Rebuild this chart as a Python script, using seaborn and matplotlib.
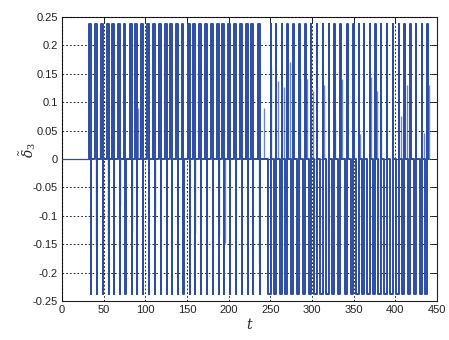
import numpy as np
import pandas as pd
import matplotlib
matplotlib.use("Agg")
import matplotlib.pyplot as plt
import seaborn as sns

# switching amplitude
amp = 0.238

# centres of the switching pulses
pulse_t = [33.1, 40.3, 47.5, 54.7, 61.6, 68.4, 75.1, 82.3, 89.2, 96.4,
           103.2, 109.9, 117.1, 124.6, 131.2, 138.0, 144.7, 151.9, 158.8, 165.6,
           172.8, 179.5, 186.7, 193.6, 200.8, 207.6, 214.3, 221.5, 228.4, 235.9,
           250.8, 257.2, 264.4, 271.2, 278.4, 285.1, 292.3, 299.2, 306.0, 313.2,
           320.4, 327.1, 334.6, 342.7, 349.9, 356.4, 362.8, 369.6, 376.3, 382.8,
           390.0, 397.2, 404.4, 411.1, 418.3, 425.2, 432.4, 438.7]

# partial-height spikes (time, value)
spike_t = [45.1, 74.8, 90.7, 242.8, 251.0, 258.9, 265.9, 274.0, 286.0, 294.0,
           301.0, 314.8, 328.0, 336.0, 342.0, 358.0, 370.8, 378.0, 382.8, 406.8,
           414.0, 434.0, 440.0,
           41.0, 55.6, 69.6, 83.6, 111.6, 160.0, 188.0, 196.0, 236.0, 305.0,
           319.0, 381.0]
spike_h = [0.12, 0.14, 0.09, 0.09, 0.16, 0.138, 0.126, 0.17, 0.14, 0.14,
           0.12, 0.13, 0.07, 0.14, 0.13, 0.044, 0.144, 0.12, 0.09, 0.075,
           0.13, 0.046, 0.13,
           -0.154, -0.146, -0.081, -0.128, -0.104, -0.131, -0.134, -0.148, -0.184, -0.16,
           -0.125, -0.125]

yticks = [0.25, 0.2, 0.15, 0.1, 0.05, 0, -0.05, -0.1, -0.15, -0.2, -0.25]
ytick_labels = ["0.25", "0.2", "0.15", "0.1", "0.05", "0", "-0.05", "-0.1", "-0.15", "-0.2", "-0.25"]
xticks = [0, 50, 100, 150, 200, 250, 300, 350, 400, 450]

# build the switching signal
t_pts = []
y_pts = []
for tc in pulse_t:
    if tc < 245:
        seq = [(tc - 1.1, 0), (tc - 1.1, amp), (tc + 1.1, amp),
               (tc + 1.1, -amp), (tc + 1.2, -amp), (tc + 1.2, 0)]
    else:
        seq = [(tc - 3.2, 0), (tc - 3.2, -amp), (tc - 0.6, -amp),
               (tc - 0.6, amp), (tc + 0.1, amp), (tc + 0.1, 0)]
    for a, b in seq:
        t_pts.append(a)
        y_pts.append(b)
t_pts.append(440.0)
y_pts.append(0.0)
df = pd.DataFrame({"t": t_pts, "y": y_pts})
df_lead = pd.DataFrame({"t": [0.0, t_pts[0]], "y": [0.0, 0.0]})

sns.set_style("white")
plt.rcParams["font.family"] = ["Liberation Sans", "DejaVu Sans"]
plt.rcParams["mathtext.fontset"] = "dejavuserif"

fig = plt.figure(figsize=(4.49, 3.40), dpi=100)
ax = fig.add_axes([62 / 449, 1 - 301 / 340, 375 / 449, 284 / 340])

blue = "#2C4DA6"
ax.vlines(spike_t, 0, spike_h, color="#6F87C8", lw=1.0, zorder=2)
sns.lineplot(data=df_lead, x="t", y="y", color=blue, lw=0.9, ax=ax, zorder=3)
sns.lineplot(data=df, x="t", y="y", sort=False, estimator=None,
             color=blue, lw=1.4, ax=ax, zorder=3)

ax.set_xlim(0, 450)
ax.set_ylim(-0.25, 0.25)
ax.set_xticks(xticks)
ax.set_yticks(yticks)
ax.set_yticklabels(ytick_labels)
ax.grid(True, color="black", linestyle=(0, (2, 2.5)), lw=0.6, zorder=5)
ax.set_axisbelow(False)
ax.tick_params(direction="in", top=True, right=True, length=4, width=0.7,
               labelsize=8, colors="#222222", pad=3)
for s in ax.spines.values():
    s.set_color("#222222")
    s.set_linewidth(0.8)
ax.set_xlabel("$t$", fontsize=10, labelpad=1)
ax.set_ylabel(r"$\tilde{\delta}_3$", fontsize=10)
ax.yaxis.set_label_coords(-0.064, 0.53)

fig.savefig("out.png", dpi=100)
